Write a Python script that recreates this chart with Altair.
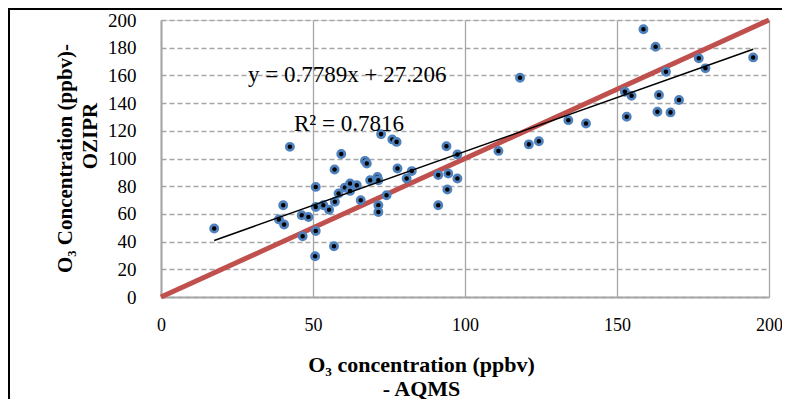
import altair as alt
import pandas as pd

aqms = [17.5, 42.4, 40.2, 38.8, 40.5, 46.3, 48.5, 46.6, 50.9, 50.9,
        53.4, 55.3, 50.9, 50.7, 56.9, 57.1, 59.3, 57.2, 58.4, 60.5,
        62.2, 62.2, 64.4, 65.7, 67.1, 67.7, 68.8, 71.2, 71.5, 72.4,
        76.1, 77.5, 71.5, 71.5, 74.2, 77.8, 80.8, 82.5, 91.2, 91.2,
        93.9, 94.5, 94.2, 97.5, 97.5, 118.1, 111.0, 121.0, 124.3, 134.0,
        139.8, 158.7, 162.7, 152.6, 154.8, 153.2, 166.1, 163.8, 163.3, 167.6,
        170.4, 176.9, 179.1, 194.8]
ozipr = [49.5, 108.4, 66.3, 56.0, 52.3, 59.0, 57.8, 43.9, 79.5, 65.0,
         66.3, 63.0, 47.7, 29.4, 36.6, 92.0, 103.3, 68.7, 74.7, 79.0,
         82.0, 76.6, 80.7, 69.9, 98.3, 96.4, 84.3, 86.7, 84.3, 117.6,
         113.8, 112.0, 66.3, 61.4, 73.5, 92.8, 85.6, 90.9, 88.0, 66.3,
         108.9, 89.2, 77.6, 102.9, 85.6, 158.3, 105.5, 110.2, 112.5, 127.7,
         125.3, 193.3, 180.7, 148.2, 145.3, 130.1, 162.6, 145.8, 133.7, 133.3,
         142.2, 172.3, 165.1, 173.0]

slope = 0.7789
intercept = 27.206
r2 = 0.7816
x_ticks = [0, 50, 100, 150, 200]
y_ticks = [0, 20, 40, 60, 80, 100, 120, 140, 160, 180, 200]
one_to_one = [0, 200]

pts = pd.DataFrame({"x": aqms, "y": ozipr})
trend_x = [min(aqms), max(aqms)]
trend = pd.DataFrame({"x": trend_x, "y": [slope * v + intercept for v in trend_x]})
diag = pd.DataFrame({"x": one_to_one, "y": one_to_one})

GRID = "#A6A6A6"
SERIF = "Liberation Serif"

xs = alt.Scale(domain=[0, 200], nice=False, zero=False)
ys = alt.Scale(domain=[0, 200], nice=False, zero=False)

x_axis = alt.Axis(
    values=x_ticks, grid=True, gridColor=GRID, gridWidth=1.3,
    ticks=False, domainColor=GRID, domainWidth=2,
    labelFont=SERIF, labelFontSize=18, labelColor="black", labelPadding=19,
    labelFlush=False, labelOverlap=False,
    title=["O\u2083 concentration (ppbv)", "- AQMS"],
    titleFont=SERIF, titleFontSize=22, titleFontWeight="bold", titleColor="black",
    titleX=260, titleY=74, titleAlign="center", titleBaseline="alphabetic",
    titleLineHeight=24,
)
y_axis = alt.Axis(
    values=y_ticks, grid=True, gridColor=GRID, gridWidth=1.3, gridDash=[5, 3],
    ticks=False, domainColor=GRID, domainWidth=2,
    labelFont=SERIF, labelFontSize=19, labelColor="black", labelPadding=25,
    labelFlush=False, labelOverlap=False,
    title="O\u2083 Concentration (ppbv)-",
    titleFont=SERIF, titleFontSize=21, titleFontWeight="bold", titleColor="black",
    titleX=-90, titleY=138, titleAlign="center", titleBaseline="alphabetic",
    titleAngle=270,
)

X = alt.X("x:Q", scale=xs, axis=x_axis)
Y = alt.Y("y:Q", scale=ys, axis=y_axis)

red = alt.Chart(diag).mark_line(color="#C0504D", strokeWidth=5).encode(x=X, y=Y)
points = alt.Chart(pts).mark_point(
    shape="circle", filled=True, fill="black", fillOpacity=1,
    stroke="#4F81BD", strokeWidth=2.7, size=52, opacity=1
).encode(x=X, y=Y)
tline = alt.Chart(trend).mark_line(color="black", strokeWidth=1.5).encode(x=X, y=Y)

eq_text = alt.Chart(pd.DataFrame({"t": [f"y = {slope}x + {intercept}"]})).mark_text(
    font=SERIF, fontSize=23, color="black", align="left", baseline="alphabetic"
).encode(x=alt.value(87), y=alt.value(62), text="t:N")
r2_text = alt.Chart(pd.DataFrame({"t": [f"R\u00b2 = {r2}"]})).mark_text(
    font=SERIF, fontSize=23, color="black", align="left", baseline="alphabetic"
).encode(x=alt.value(133), y=alt.value(111), text="t:N")

# second line of the y-axis title, which sits off-centre in the original
ytitle2 = alt.Chart(pd.DataFrame({"t": ["OZIPR"]})).mark_text(
    font=SERIF, fontSize=21, fontWeight="bold", color="black",
    align="center", baseline="alphabetic", angle=270
).encode(x=alt.value(-64), y=alt.value(116), text="t:N")

frame_top = alt.Chart(pd.DataFrame({"a": [0]})).mark_rule(color="black", strokeWidth=2).encode(
    x=alt.value(-153), x2=alt.value(630), y=alt.value(-11))
frame_left = alt.Chart(pd.DataFrame({"a": [0]})).mark_rule(color="black", strokeWidth=2).encode(
    x=alt.value(-152), y=alt.value(-12), y2=alt.value(390))

chart = alt.layer(red, points, tline, eq_text, r2_text, ytitle2, frame_top, frame_left).properties(
    width=608, height=277,
    padding={"left": 153, "top": 12, "right": 13, "bottom": 102},
    autosize=alt.AutoSizeParams(type="none"),
).configure_view(stroke=None).configure(background="white")

chart.save("out.html", embed_options={"renderer": "svg", "actions": False})
